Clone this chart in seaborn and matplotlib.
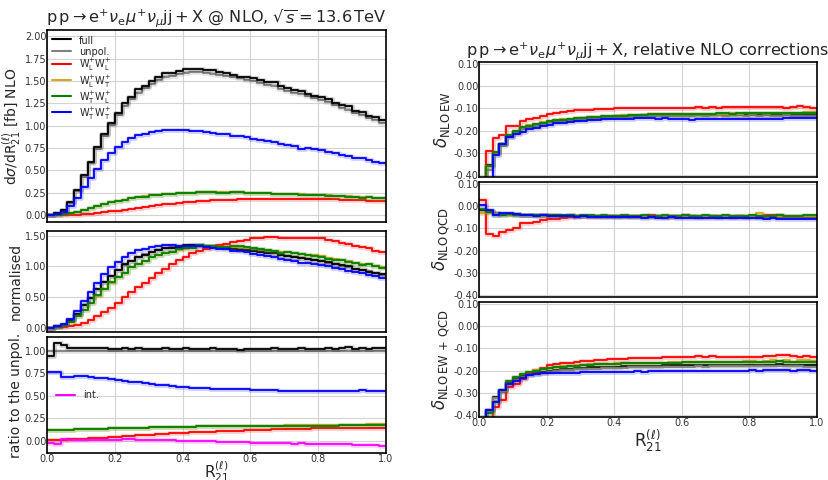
import numpy as np
import matplotlib
matplotlib.use("Agg")
import matplotlib.pyplot as plt
from matplotlib.lines import Line2D
import seaborn as sns

# bin edges of R21 (50 bins)
edges = np.linspace(0.0, 1.0, 51)

# unpolarised NLO distribution [fb]
unpol = [0.00, 0.02, 0.055, 0.14, 0.27, 0.43, 0.58, 0.74, 0.88, 1.01,
         1.12, 1.22, 1.30, 1.37, 1.42, 1.47, 1.51, 1.54, 1.56, 1.58,
         1.59, 1.60, 1.60, 1.59, 1.58, 1.57, 1.56, 1.54, 1.53, 1.51,
         1.50, 1.48, 1.46, 1.44, 1.41, 1.39, 1.37, 1.35, 1.33, 1.31,
         1.29, 1.26, 1.23, 1.20, 1.17, 1.14, 1.12, 1.09, 1.06, 1.03]

# ratios to the unpolarised
r_full = [0.94, 1.09, 1.07, 1.03, 1.03, 1.03, 1.03, 1.03, 1.03, 1.02,
          1.02, 1.03, 1.02, 1.03, 1.02, 1.02, 1.02, 1.03, 1.02, 1.02,
          1.03, 1.02, 1.02, 1.02, 1.03, 1.02, 1.02, 1.02, 1.01, 1.02,
          1.02, 1.02, 1.02, 1.03, 1.02, 1.02, 1.02, 1.03, 1.02, 1.02,
          1.02, 1.03, 1.02, 1.03, 1.04, 1.02, 1.03, 1.02, 1.03, 1.03]
r_ll = [0.010, 0.012, 0.014, 0.017, 0.020, 0.023, 0.027, 0.031, 0.035, 0.040,
        0.045, 0.050, 0.055, 0.060, 0.064, 0.068, 0.073, 0.077, 0.082, 0.086,
        0.090, 0.094, 0.097, 0.100, 0.103, 0.106, 0.109, 0.112, 0.115, 0.118,
        0.121, 0.123, 0.125, 0.127, 0.129, 0.131, 0.133, 0.135, 0.137, 0.138,
        0.140, 0.141, 0.142, 0.143, 0.144, 0.145, 0.146, 0.147, 0.147, 0.148]
r_lt = [0.121, 0.122, 0.125, 0.126, 0.130, 0.131, 0.131, 0.135, 0.136, 0.140,
        0.141, 0.141, 0.145, 0.146, 0.146, 0.150, 0.151, 0.151, 0.152, 0.155,
        0.156, 0.156, 0.160, 0.160, 0.161, 0.161, 0.162, 0.165, 0.166, 0.166,
        0.166, 0.167, 0.167, 0.167, 0.168, 0.171, 0.171, 0.172, 0.172, 0.173,
        0.173, 0.174, 0.175, 0.177, 0.178, 0.178, 0.179, 0.182, 0.183, 0.184]
r_tl = [0.120, 0.120, 0.125, 0.125, 0.130, 0.130, 0.130, 0.135, 0.135, 0.140,
        0.140, 0.140, 0.145, 0.145, 0.145, 0.150, 0.150, 0.150, 0.150, 0.155,
        0.155, 0.155, 0.160, 0.160, 0.160, 0.160, 0.160, 0.165, 0.165, 0.165,
        0.165, 0.165, 0.165, 0.165, 0.165, 0.170, 0.170, 0.170, 0.170, 0.170,
        0.170, 0.170, 0.170, 0.175, 0.175, 0.175, 0.175, 0.180, 0.180, 0.180]
r_tt = [0.77, 0.77, 0.71, 0.71, 0.72, 0.72, 0.71, 0.70, 0.70, 0.69,
        0.68, 0.67, 0.66, 0.65, 0.64, 0.635, 0.625, 0.62, 0.61, 0.60,
        0.595, 0.59, 0.59, 0.585, 0.58, 0.58, 0.58, 0.575, 0.575, 0.575,
        0.57, 0.57, 0.57, 0.565, 0.56, 0.56, 0.56, 0.55, 0.56, 0.56,
        0.56, 0.56, 0.56, 0.56, 0.56, 0.56, 0.565, 0.56, 0.56, 0.56]
r_int = [-0.025, -0.040, 0.025, 0.010, 0.005, 0.005, 0.005, 0.006, 0.006, 0.008,
         0.010, 0.018, 0.016, 0.015, 0.014, 0.012, 0.010, 0.008, 0.006, 0.004,
         0.002, 0.000, -0.002, -0.004, -0.006, -0.008, -0.010, -0.012, -0.014, -0.016,
         -0.020, -0.022, -0.024, -0.026, -0.027, -0.028, -0.030, -0.026, -0.030, -0.032,
         -0.034, -0.036, -0.038, -0.040, -0.037, -0.042, -0.045, -0.048, -0.050, -0.055]

# relative NLO EW corrections
ew_full = [-0.50, -0.355, -0.30, -0.26, -0.225, -0.205, -0.19, -0.182, -0.175, -0.167,
           -0.160, -0.157, -0.154, -0.151, -0.148, -0.146, -0.144, -0.142, -0.140, -0.138,
           -0.136, -0.135, -0.134, -0.133, -0.132, -0.131, -0.131, -0.130, -0.130, -0.129,
           -0.130, -0.129, -0.129, -0.130, -0.129, -0.128, -0.130, -0.129, -0.129, -0.130,
           -0.129, -0.130, -0.129, -0.130, -0.131, -0.129, -0.130, -0.131, -0.130, -0.130]
ew_unpol = [-0.50, -0.375, -0.31, -0.27, -0.23, -0.21, -0.195, -0.185, -0.178, -0.17,
            -0.163, -0.16, -0.157, -0.154, -0.151, -0.149, -0.147, -0.145, -0.143, -0.141,
            -0.140, -0.139, -0.138, -0.137, -0.136, -0.135, -0.135, -0.134, -0.134, -0.133,
            -0.133, -0.133, -0.132, -0.133, -0.132, -0.132, -0.133, -0.132, -0.132, -0.133,
            -0.132, -0.133, -0.132, -0.133, -0.133, -0.132, -0.133, -0.134, -0.133, -0.133]
ew_ll = [-0.45, -0.29, -0.235, -0.22, -0.18, -0.18, -0.155, -0.15, -0.145, -0.135,
         -0.125, -0.12, -0.115, -0.112, -0.11, -0.108, -0.106, -0.104, -0.103, -0.102,
         -0.101, -0.100, -0.100, -0.099, -0.099, -0.098, -0.099, -0.097, -0.098, -0.097,
         -0.098, -0.097, -0.096, -0.097, -0.096, -0.097, -0.095, -0.096, -0.096, -0.094,
         -0.095, -0.095, -0.096, -0.095, -0.096, -0.097, -0.096, -0.090, -0.094, -0.100]
ew_lt = [-0.50, -0.36, -0.30, -0.26, -0.22, -0.20, -0.185, -0.177, -0.17, -0.163,
         -0.157, -0.153, -0.150, -0.147, -0.144, -0.142, -0.140, -0.138, -0.136, -0.134,
         -0.133, -0.132, -0.131, -0.130, -0.129, -0.128, -0.128, -0.127, -0.127, -0.126,
         -0.126, -0.125, -0.125, -0.125, -0.124, -0.124, -0.124, -0.123, -0.124, -0.123,
         -0.123, -0.122, -0.123, -0.122, -0.121, -0.122, -0.120, -0.121, -0.118, -0.116]
ew_tl = [-0.50, -0.36, -0.295, -0.26, -0.22, -0.20, -0.186, -0.178, -0.171, -0.164,
         -0.158, -0.154, -0.151, -0.148, -0.145, -0.143, -0.141, -0.139, -0.137, -0.135,
         -0.134, -0.133, -0.132, -0.130, -0.129, -0.128, -0.127, -0.127, -0.126, -0.126,
         -0.125, -0.125, -0.124, -0.124, -0.124, -0.123, -0.123, -0.124, -0.123, -0.123,
         -0.122, -0.123, -0.122, -0.122, -0.123, -0.122, -0.121, -0.122, -0.121, -0.121]
ew_tt = [-0.55, -0.42, -0.31, -0.26, -0.23, -0.215, -0.205, -0.195, -0.188, -0.18,
         -0.173, -0.168, -0.164, -0.161, -0.158, -0.156, -0.154, -0.152, -0.150, -0.149,
         -0.148, -0.147, -0.147, -0.146, -0.146, -0.146, -0.147, -0.146, -0.147, -0.147,
         -0.148, -0.152, -0.148, -0.149, -0.150, -0.149, -0.148, -0.149, -0.150, -0.149,
         -0.148, -0.149, -0.148, -0.147, -0.147, -0.146, -0.146, -0.145, -0.144, -0.143]

# relative NLO QCD corrections
qcd_full = [-0.020, -0.024, -0.030, -0.038, -0.036, -0.038, -0.040, -0.041, -0.040, -0.042,
            -0.042, -0.043, -0.044, -0.043, -0.044, -0.045, -0.044, -0.045, -0.046, -0.045,
            -0.046, -0.045, -0.047, -0.046, -0.045, -0.047, -0.046, -0.048, -0.046, -0.047,
            -0.045, -0.047, -0.048, -0.046, -0.047, -0.048, -0.046, -0.049, -0.047, -0.048,
            -0.047, -0.049, -0.048, -0.047, -0.049, -0.048, -0.050, -0.049, -0.048, -0.050]
qcd_unpol = [-0.030, -0.028, -0.034, -0.040, -0.038, -0.040, -0.042, -0.042, -0.043, -0.043,
             -0.044, -0.045, -0.045, -0.046, -0.046, -0.047, -0.046, -0.047, -0.048, -0.047,
             -0.048, -0.047, -0.048, -0.049, -0.048, -0.049, -0.048, -0.050, -0.049, -0.049,
             -0.048, -0.050, -0.049, -0.048, -0.050, -0.049, -0.048, -0.050, -0.049, -0.050,
             -0.049, -0.050, -0.049, -0.050, -0.051, -0.050, -0.049, -0.051, -0.050, -0.051]
qcd_ll = [0.025, -0.124, -0.136, -0.116, -0.106, -0.097, -0.078, -0.076, -0.072, -0.065,
          -0.060, -0.057, -0.052, -0.049, -0.047, -0.046, -0.046, -0.045, -0.046, -0.045,
          -0.046, -0.045, -0.044, -0.046, -0.045, -0.043, -0.045, -0.046, -0.045, -0.044,
          -0.043, -0.045, -0.046, -0.044, -0.045, -0.046, -0.044, -0.045, -0.047, -0.046,
          -0.045, -0.044, -0.043, -0.040, -0.042, -0.044, -0.046, -0.044, -0.045, -0.046]
qcd_lt = [-0.034, -0.030, -0.035, -0.038, -0.040, -0.039, -0.041, -0.043, -0.042, -0.044,
          -0.043, -0.045, -0.044, -0.046, -0.045, -0.044, -0.046, -0.045, -0.047, -0.046,
          -0.045, -0.047, -0.046, -0.044, -0.046, -0.047, -0.045, -0.046, -0.048, -0.046,
          -0.045, -0.047, -0.046, -0.048, -0.046, -0.045, -0.047, -0.046, -0.047, -0.045,
          -0.046, -0.030, -0.045, -0.047, -0.046, -0.044, -0.047, -0.046, -0.045, -0.046]
qcd_tl = [-0.012, -0.027, -0.042, -0.040, -0.038, -0.040, -0.041, -0.042, -0.041, -0.040,
          -0.042, -0.041, -0.043, -0.042, -0.044, -0.043, -0.042, -0.044, -0.043, -0.045,
          -0.044, -0.043, -0.045, -0.044, -0.043, -0.045, -0.044, -0.043, -0.045, -0.044,
          -0.042, -0.044, -0.045, -0.043, -0.044, -0.045, -0.043, -0.044, -0.045, -0.044,
          -0.043, -0.045, -0.044, -0.046, -0.043, -0.045, -0.044, -0.045, -0.043, -0.042]
qcd_tt = [0.003, -0.019, -0.042, -0.031, -0.030, -0.038, -0.041, -0.042, -0.044, -0.043,
          -0.045, -0.046, -0.045, -0.047, -0.048, -0.047, -0.049, -0.048, -0.049, -0.050,
          -0.049, -0.050, -0.051, -0.050, -0.052, -0.051, -0.052, -0.053, -0.051, -0.054,
          -0.053, -0.052, -0.054, -0.053, -0.055, -0.056, -0.054, -0.055, -0.056, -0.055,
          -0.056, -0.055, -0.057, -0.056, -0.058, -0.057, -0.058, -0.059, -0.059, -0.060]

# relative NLO EW+QCD corrections
ewqcd_full = [-0.50, -0.378, -0.318, -0.29, -0.255, -0.238, -0.226, -0.217, -0.210, -0.205,
              -0.200, -0.197, -0.194, -0.192, -0.190, -0.188, -0.186, -0.185, -0.184, -0.183,
              -0.182, -0.181, -0.180, -0.180, -0.179, -0.178, -0.178, -0.177, -0.177, -0.176,
              -0.176, -0.176, -0.175, -0.176, -0.175, -0.175, -0.174, -0.175, -0.174, -0.174,
              -0.174, -0.173, -0.174, -0.173, -0.172, -0.176, -0.173, -0.174, -0.175, -0.176]
ewqcd_unpol = [-0.50, -0.385, -0.325, -0.295, -0.26, -0.243, -0.231, -0.222, -0.215, -0.210,
               -0.205, -0.202, -0.199, -0.197, -0.195, -0.193, -0.192, -0.191, -0.190, -0.189,
               -0.188, -0.187, -0.186, -0.186, -0.185, -0.184, -0.184, -0.183, -0.183, -0.182,
               -0.182, -0.182, -0.181, -0.182, -0.181, -0.181, -0.180, -0.181, -0.180, -0.180,
               -0.180, -0.180, -0.181, -0.180, -0.179, -0.181, -0.180, -0.181, -0.182, -0.183]
ewqcd_ll = [-0.50, -0.42, -0.363, -0.333, -0.273, -0.258, -0.236, -0.213, -0.198, -0.187,
            -0.176, -0.172, -0.168, -0.164, -0.161, -0.158, -0.156, -0.154, -0.152, -0.150,
            -0.148, -0.147, -0.146, -0.145, -0.144, -0.143, -0.142, -0.141, -0.140, -0.139,
            -0.138, -0.139, -0.137, -0.138, -0.137, -0.139, -0.138, -0.140, -0.139, -0.138,
            -0.139, -0.138, -0.136, -0.133, -0.130, -0.129, -0.134, -0.140, -0.133, -0.139]
ewqcd_lt = [-0.50, -0.388, -0.335, -0.29, -0.247, -0.229, -0.216, -0.207, -0.199, -0.193,
            -0.188, -0.184, -0.181, -0.178, -0.176, -0.174, -0.172, -0.171, -0.170, -0.169,
            -0.168, -0.167, -0.167, -0.166, -0.165, -0.165, -0.164, -0.164, -0.163, -0.163,
            -0.162, -0.162, -0.161, -0.162, -0.161, -0.160, -0.161, -0.160, -0.160, -0.159,
            -0.158, -0.160, -0.159, -0.152, -0.158, -0.153, -0.160, -0.152, -0.154, -0.155]
ewqcd_tl = [-0.50, -0.392, -0.34, -0.288, -0.245, -0.228, -0.215, -0.207, -0.200, -0.194,
            -0.190, -0.186, -0.183, -0.180, -0.178, -0.176, -0.174, -0.172, -0.171, -0.170,
            -0.169, -0.168, -0.168, -0.167, -0.166, -0.166, -0.165, -0.165, -0.164, -0.164,
            -0.163, -0.163, -0.162, -0.163, -0.162, -0.162, -0.161, -0.162, -0.161, -0.161,
            -0.160, -0.161, -0.160, -0.160, -0.158, -0.162, -0.161, -0.160, -0.161, -0.161]
ewqcd_tt = [-0.50, -0.375, -0.34, -0.288, -0.258, -0.246, -0.232, -0.222, -0.215, -0.213,
            -0.212, -0.211, -0.210, -0.209, -0.209, -0.208, -0.208, -0.207, -0.207, -0.206,
            -0.206, -0.205, -0.205, -0.204, -0.205, -0.204, -0.203, -0.204, -0.203, -0.202,
            -0.201, -0.202, -0.201, -0.200, -0.201, -0.202, -0.201, -0.200, -0.201, -0.200,
            -0.199, -0.200, -0.199, -0.198, -0.199, -0.198, -0.200, -0.199, -0.198, -0.200]

labels = ["full", "unpol.",
          r"W$_\mathrm{L}^{+}$W$_\mathrm{L}^{+}$", r"W$_\mathrm{L}^{+}$W$_\mathrm{T}^{+}$",
          r"W$_\mathrm{T}^{+}$W$_\mathrm{L}^{+}$", r"W$_\mathrm{T}^{+}$W$_\mathrm{T}^{+}$"]
colors = {"full": "black", "unpol": "grey", "ll": "red", "lt": "goldenrod",
          "tl": "green", "tt": "blue", "int": "magenta"}

sns.set_style("whitegrid", {"axes.edgecolor": "black", "grid.color": "#d3d3d3"})
plt.rcParams["font.family"] = ["DejaVu Sans"]
plt.rcParams["axes.unicode_minus"] = False
plt.rcParams["axes.linewidth"] = 1.2


def step(ax, vals, color, lw=1.3):
    yy = np.append(vals, vals[-1])
    ax.plot(edges, yy, drawstyle="steps-post", color=color, lw=lw * 2.6, alpha=0.2)
    sns.lineplot(x=edges, y=yy, drawstyle="steps-post", color=color, lw=lw, ax=ax)


def style(ax, yticks, xlabels=False):
    ax.set_xlim(0, 1)
    ax.set_xticks(np.round(np.arange(0, 1.01, 0.2), 2) + 0.0)
    ax.set_yticks(np.round(yticks, 2) + 0.0)
    ax.yaxis.set_major_formatter(matplotlib.ticker.FormatStrFormatter("%.2f"))
    ax.xaxis.set_major_formatter(matplotlib.ticker.FormatStrFormatter("%.1f"))
    ax.tick_params(labelsize=7, colors="#333333", pad=0.5, length=0)
    ax.tick_params(labelbottom=xlabels)


fig = plt.figure(figsize=(8.29, 4.8), dpi=100)
W, H = 829, 480


def axes_px(x0, y0, x1, y1):
    return fig.add_axes([x0 / W, 1 - y1 / H, (x1 - x0) / W, (y1 - y0) / H])


ax1 = axes_px(47, 30, 386, 222)
ax2 = axes_px(47, 231, 386, 332)
ax3 = axes_px(47, 337, 386, 453)

unpol_a = np.array(unpol)
dist = {"unpol": unpol_a,
        "full": unpol_a * np.array(r_full),
        "ll": unpol_a * np.array(r_ll),
        "lt": unpol_a * np.array(r_lt),
        "tl": unpol_a * np.array(r_tl),
        "tt": unpol_a * np.array(r_tt)}
order = ["unpol", "full", "ll", "lt", "tl", "tt"]

for k in order:
    step(ax1, dist[k], colors[k])
    step(ax2, dist[k] / (dist[k].sum() * 0.02), colors[k])

ratios = {"unpol": np.ones(50), "full": r_full, "ll": r_ll, "lt": r_lt,
          "tl": r_tl, "tt": r_tt}
for k in order:
    step(ax3, ratios[k], colors[k])
step(ax3, r_int, colors["int"])

ax1.set_ylim(-0.078, 2.07)
ax2.set_ylim(-0.072, 1.576)
ax3.set_ylim(-0.135, 1.155)
style(ax1, np.arange(0, 2.01, 0.25))
style(ax2, [0, 0.5, 1.0, 1.5])
style(ax3, np.arange(0, 1.01, 0.25), xlabels=True)

ax1.set_ylabel(r"d$\sigma$/dR$_{21}^{(\ell)}$ [fb] NLO", fontsize=10)
ax2.set_ylabel("normalised", fontsize=10)
ax3.set_ylabel("ratio to the unpol.", fontsize=10)
for ax in (ax1, ax2, ax3):
    ax.yaxis.set_label_coords(-0.072, 0.5)
ax3.set_xlabel(r"R$_{21}^{(\ell)}$", fontsize=11)
ax3.xaxis.set_label_coords(0.5, -0.05)
ax1.set_title(r"$\mathrm{p\,p} \rightarrow \mathrm{e}^{+}\nu_\mathrm{e}\mu^{+}\nu_\mu\mathrm{jj} + \mathrm{X}$"
              r" @ NLO, $\sqrt{s} = 13.6\,$TeV", fontsize=11.6, pad=4)

leg_keys = ["full", "unpol", "ll", "lt", "tl", "tt"]
handles = [Line2D([], [], color=colors[k], lw=1.5) for k in leg_keys]
ax1.legend(handles, labels, loc="upper left", fontsize=7, frameon=False,
           handlelength=2.0, handleheight=1.4, handletextpad=0.8, labelspacing=0.0,
           borderaxespad=0.1, bbox_to_anchor=(0.0, 1.0))
ax3.legend([Line2D([], [], color=colors["int"], lw=1.5)], ["int."], loc="center left",
           fontsize=7, frameon=False, handlelength=2.0, handletextpad=0.8,
           bbox_to_anchor=(0.0, 0.5))

# right column: relative corrections
bx1 = axes_px(479, 62, 817, 177)
bx2 = axes_px(479, 182, 817, 297)
bx3 = axes_px(479, 302, 817, 417)
corr = [
    (bx1, {"full": ew_full, "unpol": ew_unpol, "ll": ew_ll, "lt": ew_lt, "tl": ew_tl, "tt": ew_tt},
     r"$\delta_{\mathrm{NLO\,EW}}$"),
    (bx2, {"full": qcd_full, "unpol": qcd_unpol, "ll": qcd_ll, "lt": qcd_lt, "tl": qcd_tl, "tt": qcd_tt},
     r"$\delta_{\mathrm{NLO\,QCD}}$"),
    (bx3, {"full": ewqcd_full, "unpol": ewqcd_unpol, "ll": ewqcd_ll, "lt": ewqcd_lt, "tl": ewqcd_tl,
           "tt": ewqcd_tt}, r"$\delta_{\mathrm{NLO\,EW\,+\,QCD}}$"),
]
for i, (ax, d, lab) in enumerate(corr):
    for k in ["full", "unpol", "ll", "lt", "tl", "tt"]:
        step(ax, d[k], colors[k])
    ax.set_ylim(-0.408, 0.107)
    style(ax, np.arange(-0.4, 0.101, 0.1), xlabels=(i == 2))
    ax.set_ylabel(lab, fontsize=12)
    ax.yaxis.set_label_coords(-0.08, 0.5)
bx3.set_xlabel(r"R$_{21}^{(\ell)}$", fontsize=12)
bx3.xaxis.set_label_coords(0.5, -0.09)
bx1.set_title(r"$\mathrm{p\,p} \rightarrow \mathrm{e}^{+}\nu_\mathrm{e}\mu^{+}\nu_\mu\mathrm{jj} + \mathrm{X}$"
              ", relative NLO corrections", fontsize=11.6, pad=4.5)

fig.savefig("out.png", dpi=100)
